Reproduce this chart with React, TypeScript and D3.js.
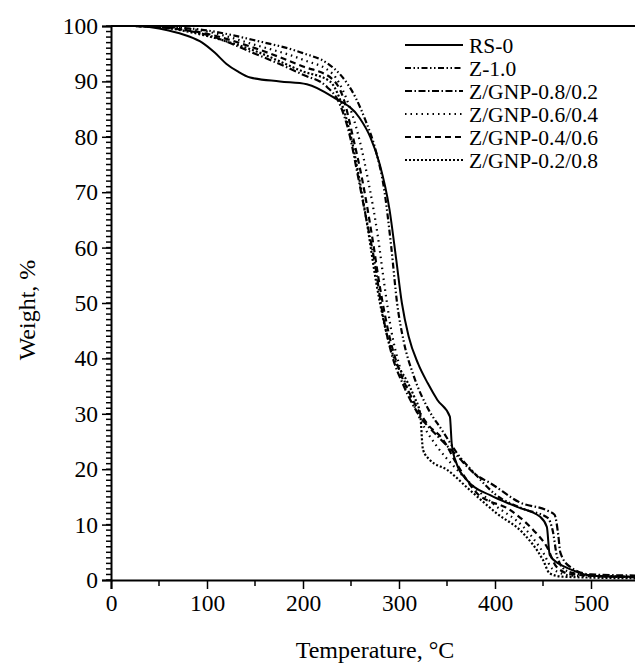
import React, { useEffect, useRef } from 'react';
import * as d3 from 'd3';

// TGA curves (temperature in °C, weight in %)
const rs0T = [25, 40, 60, 80, 95, 108, 120, 132, 145, 176, 204, 231, 259, 270, 280, 290, 297, 303, 310, 320, 330, 340, 353, 355, 360, 371, 395, 423, 447, 454, 457, 466, 475, 485, 499, 520, 550];
const rs0W = [100, 99.8, 99.2, 98.2, 97, 95.2, 93.2, 91.8, 90.7, 90.0, 89.5, 87.2, 83.4, 80, 75, 67, 58, 50, 44, 39, 35.5, 32.5, 29.5, 24.5, 21, 18, 15.3, 13.2, 11.4, 9.6, 4.5, 3, 2.2, 1.5, 0.8, 0.6, 0.6];

const z10T = [25, 50, 100, 150, 200, 225, 240, 255, 265, 275, 285, 292, 298, 305, 315, 330, 345, 360, 380, 400, 430, 455, 460, 465, 475, 490, 520, 550];
const z10W = [100, 99.9, 99.2, 97.4, 95.1, 93.3, 91, 87, 83, 78, 70, 60, 50, 43, 37, 31, 27, 23, 19, 15.5, 12.8, 11.2, 9, 4, 1.6, 1, 0.7, 0.6];

const g82T = [25, 50, 100, 150, 200, 225, 238, 249, 256, 265, 275, 283, 292, 305, 320, 340, 360, 380, 395, 426, 455, 462, 466, 468, 478, 500, 550];
const g82W = [100, 99.8, 98.4, 95, 91.2, 89, 86, 80, 74, 66, 57, 48, 41, 35, 30, 26, 22.5, 19, 17.5, 14, 12.5, 11.8, 8, 5, 2.4, 1, 0.8];

const g64T = [25, 50, 100, 150, 200, 230, 245, 258, 268, 278, 285, 292, 300, 310, 325, 340, 360, 380, 400, 430, 450, 460, 480, 550];
const g64W = [100, 99.9, 99, 96.6, 93.9, 91.5, 87, 80, 72, 62, 53, 45, 39, 34, 28, 24, 20, 16.5, 13.5, 9.5, 5, 2, 0.8, 0.5];

const g46T = [25, 50, 100, 150, 200, 230, 242, 252, 262, 272, 280, 290, 300, 311, 329, 346, 360, 381, 416, 440, 454, 464, 480, 550];
const g46W = [100, 99.8, 98.6, 96, 92.7, 90.5, 87, 80, 72, 62, 53, 44, 38, 33.7, 28.3, 25.3, 21, 15.7, 12.6, 9, 6, 2.4, 1, 0.5];

const g28T = [25, 50, 100, 150, 200, 228, 238, 250, 258, 267, 276, 285, 295, 308, 316, 322, 325, 332, 350, 374, 402, 429, 450, 457, 470, 550];
const g28W = [100, 99.8, 98.2, 95.5, 91.8, 90, 87, 80, 73, 64, 54, 46, 40, 36, 33, 30, 23.5, 21.7, 19.9, 16.2, 12, 8.5, 3.6, 1.2, 0.6, 0.3];

const seriesNames = ['RS-0', 'Z-1.0', 'Z/GNP-0.8/0.2', 'Z/GNP-0.6/0.4', 'Z/GNP-0.4/0.6', 'Z/GNP-0.2/0.8'];
const seriesT = [rs0T, z10T, g82T, g64T, g46T, g28T];
const seriesW = [rs0W, z10W, g82W, g64W, g46W, g28W];
const dashes = ['none', '6,2.5,1.5,2.5,1.5,2.5', '7,2.5,1.5,2.5', '1.5,4', '6,4', '2,2'];

const xTicks = [0, 100, 200, 300, 400, 500];
const yTicks = [0, 10, 20, 30, 40, 50, 60, 70, 80, 90, 100];

const W = 635;
const H = 670;
const FONT = '"Liberation Serif", "Times New Roman", serif';

export default function App() {
  const ref = useRef<SVGSVGElement>(null);

  useEffect(() => {
    const svg = d3.select(ref.current);
    svg.selectAll('*').remove();

    const x = d3.scaleLinear().domain([0, 550]).range([111, 639]);
    const y = d3.scaleLinear().domain([0, 100]).range([580, 26]);

    svg.append('defs').append('clipPath').attr('id', 'plot')
      .append('rect').attr('x', 111).attr('y', 20).attr('width', W - 111).attr('height', 562);

    // minor ticks first, major on top
    const yMinor = d3.range(0, 101, 1);
    svg.append('g').selectAll('line').data(yMinor).enter().append('line')
      .attr('x1', 111).attr('x2', 106)
      .attr('y1', d => y(d)).attr('y2', d => y(d))
      .attr('stroke', '#000').attr('stroke-width', 1.5);

    const yAxis = d3.axisLeft(y).tickValues(yTicks).tickSize(9).tickPadding(4);
    const gy = svg.append('g').attr('transform', 'translate(111,0)').call(yAxis);
    gy.select('.domain').attr('stroke-width', 2);
    gy.selectAll('.tick line').attr('stroke-width', 1.5);
    gy.selectAll('text').attr('font-family', FONT).attr('font-size', 23.5).attr('fill', '#000');

    const xMinor = d3.range(50, 551, 100);
    svg.append('g').selectAll('line').data(xMinor).enter().append('line')
      .attr('x1', d => x(d)).attr('x2', d => x(d))
      .attr('y1', 580).attr('y2', 586)
      .attr('stroke', '#000').attr('stroke-width', 1.5);

    const xAxis = d3.axisBottom(x).tickValues(xTicks).tickSize(9).tickPadding(5);
    const gx = svg.append('g').attr('transform', 'translate(0,580)').call(xAxis);
    gx.select('.domain').attr('stroke-width', 2);
    gx.selectAll('.tick line').attr('stroke-width', 1.5);
    gx.selectAll('text').attr('font-family', FONT).attr('font-size', 23.5).attr('fill', '#000');

    // top frame line
    svg.append('line').attr('x1', 111).attr('x2', W).attr('y1', y(100)).attr('y2', y(100))
      .attr('stroke', '#000').attr('stroke-width', 2);

    const line = d3.line<[number, number]>()
      .x(d => x(d[0]))
      .y(d => y(d[1]))
      .curve(d3.curveMonotoneX);

    const plot = svg.append('g').attr('clip-path', 'url(#plot)');
    seriesNames.forEach((name, i) => {
      const pts = seriesT[i].map((t, j) => [t, seriesW[i][j]] as [number, number]);
      plot.append('path')
        .attr('d', line(pts))
        .attr('fill', 'none')
        .attr('stroke', '#000')
        .attr('stroke-width', i === 0 ? 2 : 2.2)
        .attr('stroke-dasharray', dashes[i]);
    });

    // legend
    const leg = svg.append('g');
    seriesNames.forEach((name, i) => {
      const ly = 45 + i * 23;
      leg.append('line')
        .attr('x1', 405).attr('x2', 463).attr('y1', ly).attr('y2', ly)
        .attr('stroke', '#000').attr('stroke-width', i === 0 ? 2 : 2.2)
        .attr('stroke-dasharray', dashes[i]);
      leg.append('text')
        .attr('x', 469).attr('y', ly).attr('dy', '0.35em')
        .attr('font-family', FONT).attr('font-size', 21.5)
        .text(name);
    });

    svg.append('text')
      .attr('x', x(275)).attr('y', 658)
      .attr('text-anchor', 'middle')
      .attr('font-family', FONT).attr('font-size', 24)
      .text('Temperature, °C');

    svg.append('text')
      .attr('transform', 'translate(35,310) rotate(-90)')
      .attr('text-anchor', 'middle')
      .attr('font-family', FONT).attr('font-size', 24)
      .text('Weight, %');
  }, []);

  return (
    <svg ref={ref} width={W} height={H}
      style={{ position: 'absolute', left: 0, top: 0, background: '#fff' }} />
  );
}
